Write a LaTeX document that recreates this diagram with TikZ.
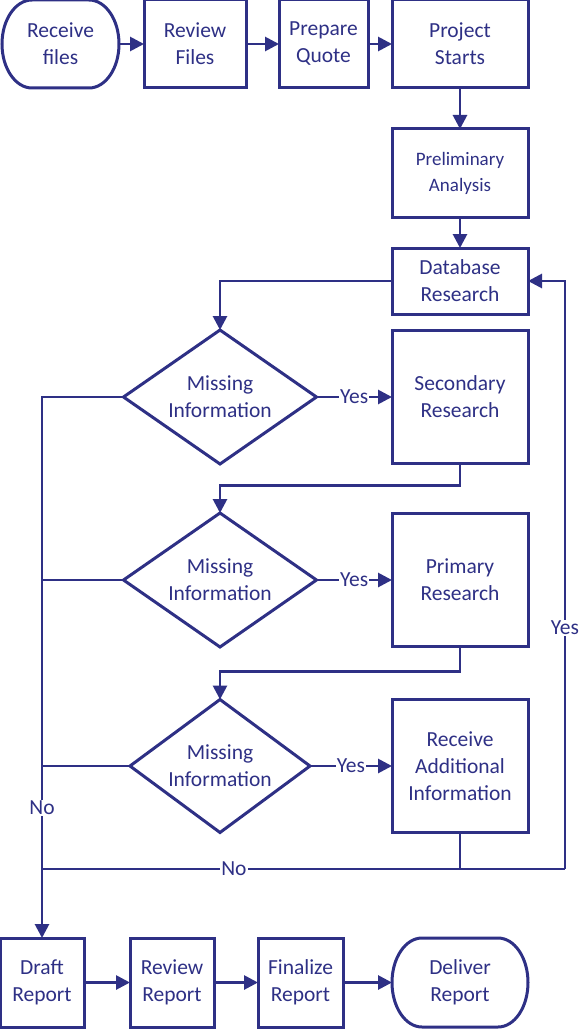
\documentclass[tikz,border=0pt]{standalone}
\usepackage{fontspec}
\setmainfont{Carlito}
\usetikzlibrary{shapes.geometric,arrows.meta}
\definecolor{navy}{HTML}{2E3085}
\begin{document}
\begin{tikzpicture}[x=1pt,y=-1pt,
 bx/.style={draw=navy,line width=3pt},
 tfont/.style={font=\fontsize{21.5}{27}\selectfont},
 box/.style={bx,rectangle,inner sep=0pt,outer sep=0pt,align=center,text=navy,tfont},
 term/.style={rectangle,inner sep=0pt,outer sep=0pt,align=center,text=navy,tfont},
 dia/.style={bx,diamond,inner sep=0pt,outer sep=0pt},
 txt/.style={align=center,text=navy,tfont,inner sep=0pt},
 conn/.style={draw=navy,line width=2.8pt,-{Triangle[length=14pt,width=14pt]}},
 ln/.style={draw=navy,line width=2.8pt},
 lab/.style={fill=white,text=navy,font=\fontsize{21.5}{24}\selectfont,inner sep=1pt}
]
\useasboundingbox (0,0) rectangle (581,1030);

% top row
\node[term,minimum width=117pt,minimum height=88pt] (rf) at (60.5,44) {Receive\\files};
\draw[bx] ([xshift=30pt]rf.north west) -- ([xshift=-30pt]rf.north east)
  arc[start angle=90,end angle=-90,x radius=30pt,y radius=44pt]
  -- ([xshift=30pt]rf.south west)
  arc[start angle=270,end angle=90,x radius=30pt,y radius=44pt] -- cycle;
\node[box,minimum width=102pt,minimum height=88pt] (rv) at (195,44) {Review\\Files};
\node[box,minimum width=89pt,minimum height=88pt] (pq) at (323.5,44) {Prepare\\Quote};
\node[box,minimum width=136pt,minimum height=88pt] (ps) at (460,44) {Project\\Starts};

\node[box,minimum width=136pt,minimum height=88pt,font=\fontsize{19}{26}\selectfont] (pa) at (460,173) {Preliminary\\Analysis};
\node[box,minimum width=136pt,minimum height=66pt] (db) at (460,281) {Database\\Research};

% decisions
\node[dia,minimum width=193pt,minimum height=134pt] (d1) at (220,397) {};
\node[txt] (d1t) at (d1) {Missing\\Information};
\node[box,minimum width=136pt,minimum height=133pt] (sr) at (460,397) {Secondary\\Research};

\node[dia,minimum width=193pt,minimum height=134pt] (d2) at (220,580) {};
\node[txt] (d2t) at (d2) {Missing\\Information};
\node[box,minimum width=136pt,minimum height=133pt] (pr) at (460,580) {Primary\\Research};

\node[dia,minimum width=180pt,minimum height=133pt] (d3) at (220,766) {};
\node[txt] (d3t) at (d3) {Missing\\Information};
\node[box,minimum width=136pt,minimum height=133pt] (ra) at (460,766) {Receive\\Additional\\Information};

% bottom row
\node[box,minimum width=84pt,minimum height=89pt] (dr) at (42,982.5) {Draft\\Report};
\node[box,minimum width=84pt,minimum height=89pt] (rr) at (172,982.5) {Review\\Report};
\node[box,minimum width=85pt,minimum height=89pt] (fr) at (300.5,982.5) {Finalize\\Report};
\node[term,minimum width=136pt,minimum height=89pt] (dl) at (460,982.5) {Deliver\\Report};
\draw[bx] ([xshift=30pt]dl.north west) -- ([xshift=-30pt]dl.north east)
  arc[start angle=90,end angle=-90,x radius=30pt,y radius=44.5pt]
  -- ([xshift=30pt]dl.south west)
  arc[start angle=270,end angle=90,x radius=30pt,y radius=44.5pt] -- cycle;

\coordinate (bl) at (42,869);
\coordinate (br) at (565,869);

% connectors
\draw[conn] (rf.east) -- (rv.west);
\draw[conn] (rv.east) -- (pq.west);
\draw[conn] (pq.east) -- (ps.west);
\draw[conn] (ps.south) -- (pa.north);
\draw[conn] (pa.south) -- (db.north);
\draw[conn] (db.west) -| (d1.north);
\draw[conn] (d1.east) -- node[lab]{Yes} (sr.west);
\draw[conn] (sr.south) -- ++(0,22) -| (d2.north);
\draw[conn] (d2.east) -- node[lab]{Yes} (pr.west);
\draw[conn] (pr.south) -- ++(0,25) -| (d3.north);
\draw[conn] (d3.east) -- node[lab]{Yes} (ra.west);
\draw[conn] (d1.west) -| node[lab,pos=0.88]{No} (dr.north);
\draw[ln] (d2.west) -- (d2.west -| dr.north);
\draw[ln] (d3.west) -- (d3.west -| dr.north);
\draw[ln] (ra.south) -- (ra.south |- bl);
\draw[ln] (bl) -- node[lab,pos=0.367]{No} (br);
\draw[conn] (br) |- node[lab,pos=0.205]{Yes} (db.east);
\draw[conn] (dr.east) -- (rr.west);
\draw[conn] (rr.east) -- (fr.west);
\draw[conn] (fr.east) -- (dl.west);
\end{tikzpicture}
\end{document}
